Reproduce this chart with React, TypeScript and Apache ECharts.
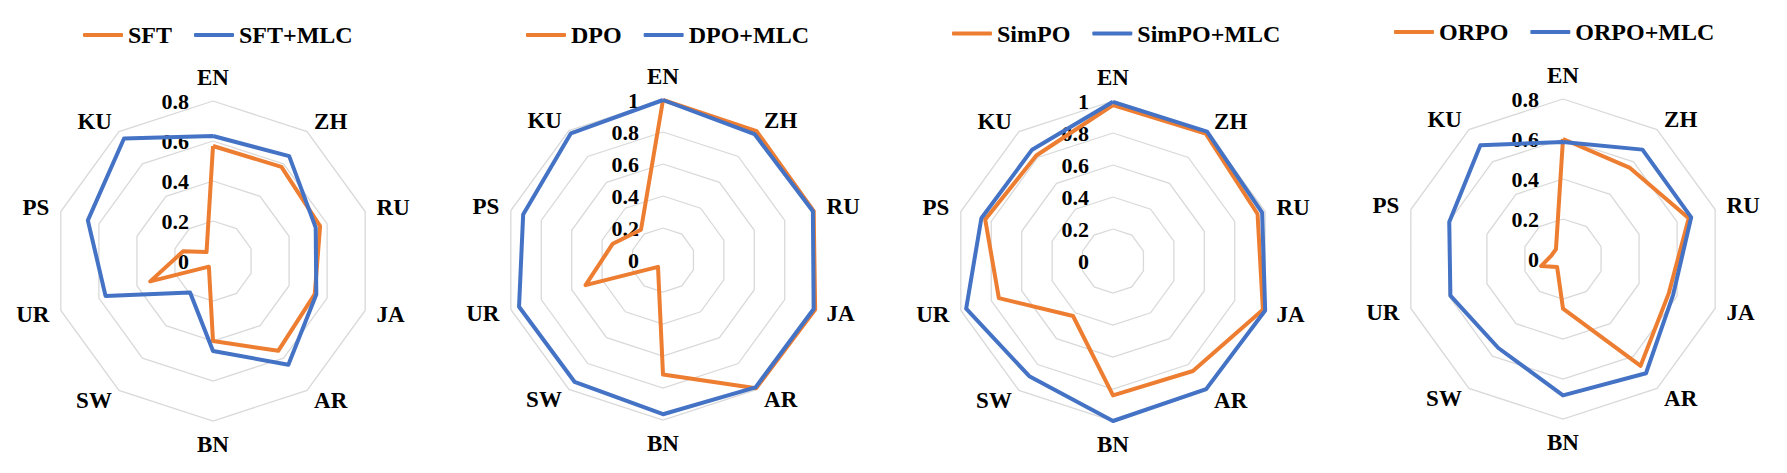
import React, { useEffect, useRef } from "react";
import * as echarts from "echarts";

// Languages, listed clockwise from the top axis
const languages = ["EN", "ZH", "RU", "JA", "AR", "BN", "SW", "UR", "PS", "KU"];

const sft = [0.575, 0.582, 0.563, 0.535, 0.555, 0.4, 0.035, 0.33, 0.157, 0.055];
const sftMlc = [0.625, 0.648, 0.54, 0.543, 0.641, 0.45, 0.195, 0.565, 0.658, 0.757];

const dpo = [1.0, 0.995, 0.99, 1.0, 0.99, 0.716, 0.053, 0.509, 0.33, 0.234];
const dpoMlc = [1.0, 0.973, 0.985, 0.99, 0.984, 0.964, 0.941, 0.946, 0.919, 0.979];

const simpo = [0.975, 0.985, 0.95, 0.985, 0.85, 0.84, 0.425, 0.75, 0.84, 0.815];
const simpoMlc = [0.995, 1.0, 0.98, 1.0, 0.99, 1.0, 0.89, 0.965, 0.865, 0.86];

const orpo = [0.6, 0.565, 0.661, 0.556, 0.66, 0.248, 0.05, 0.115, 0.06, 0.06];
const orpoMlc = [0.585, 0.676, 0.674, 0.579, 0.706, 0.682, 0.55, 0.592, 0.598, 0.703];

const methodNames = ["SFT", "DPO", "SimPO", "ORPO"];
const baseValues = [sft, dpo, simpo, orpo];
const mlcValues = [sftMlc, dpoMlc, simpoMlc, orpoMlc];
const axisMax = [0.8, 1, 1, 0.8];
const axisSplits = [4, 5, 5, 4];

// Panel layout
const centersX = [213, 663, 1113, 1563];
const centersY = [261, 260, 261, 259];
const legendLeft = [83, 526, 952, 1394];
const legendTop = [23, 23, 21.5, 20];
const RADIUS = 160;

const ORANGE = "#ED7D31";
const BLUE = "#4472C4";
const FONT = "'Liberation Serif', 'Times New Roman', serif";

// ECharts lays radar indicators out counter-clockwise; reverse all but the first
const order = [0, ...languages.map((_, i) => i).slice(1).reverse()];
const arrange = <T,>(arr: T[]) => order.map((i) => arr[i]);

const fmt = (v: number) => String(parseFloat(Number(v).toFixed(2)));

export default function App() {
  const ref = useRef<HTMLDivElement>(null);

  useEffect(() => {
    if (!ref.current) return;
    const chart = echarts.init(ref.current, undefined, { renderer: "svg" });

    const radar = methodNames.map((_, k) => ({
      center: [centersX[k], centersY[k]],
      radius: RADIUS,
      startAngle: 90,
      shape: "polygon",
      splitNumber: axisSplits[k],
      nameGap: 12,
      axisName: {
        color: "#000",
        fontFamily: FONT,
        fontWeight: "bold",
        fontSize: 23,
      },
      axisLine: { show: false },
      axisTick: { show: false },
      axisLabel: { show: false },
      splitArea: { show: false },
      splitLine: { lineStyle: { color: "#d9d9d9", width: 1.3 } },
      indicator: arrange(languages).map((name, i) => ({
        name,
        min: 0,
        max: axisMax[k],
        ...(i === 0
          ? {
              axisLabel: {
                show: true,
                margin: 24,
                color: "#000",
                fontFamily: FONT,
                fontWeight: "bold",
                fontSize: 22,
                formatter: fmt,
              },
            }
          : {}),
      })),
    }));

    const legend = methodNames.map((m, k) => ({
      data: [m, m + "+MLC"],
      left: legendLeft[k],
      top: legendTop[k],
      padding: 0,
      orient: "horizontal",
      icon: "roundRect",
      itemWidth: 40,
      itemHeight: 4,
      itemGap: 22,
      textStyle: {
        color: "#000",
        fontFamily: FONT,
        fontWeight: "bold",
        fontSize: 24,
        lineHeight: 24,
      },
    }));

    const series = methodNames.map((m, k) => ({
      type: "radar",
      radarIndex: k,
      symbol: "none",
      data: [
        {
          name: m,
          value: arrange(baseValues[k]),
          lineStyle: { color: ORANGE, width: 4, join: "round" },
          itemStyle: { color: ORANGE },
        },
        {
          name: m + "+MLC",
          value: arrange(mlcValues[k]),
          lineStyle: { color: BLUE, width: 4, join: "round" },
          itemStyle: { color: BLUE },
        },
      ],
    }));

    chart.setOption({
      animation: false,
      backgroundColor: "#fff",
      legend,
      radar,
      series,
    });

    return () => chart.dispose();
  }, []);

  return (
    <div
      ref={ref}
      style={{ position: "fixed", left: 0, top: 0, width: 1787, height: 473, background: "#fff" }}
    />
  );
}
